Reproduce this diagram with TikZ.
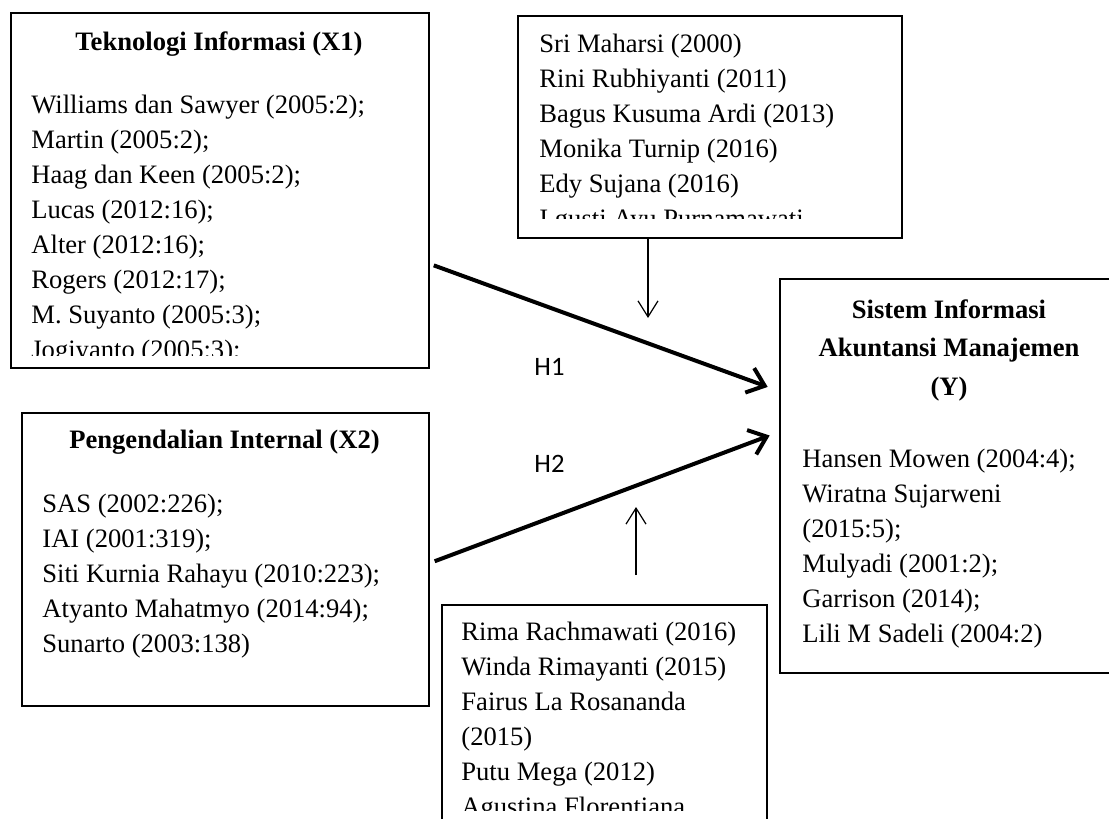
\documentclass[tikz,border=0pt]{standalone}
\usepackage{fontspec}
\setmainfont{Liberation Serif}
\newfontfamily\hfont{Carlito}
\usetikzlibrary{arrows.meta}

\tikzset{
  box/.style={draw,line width=1pt,inner sep=0pt,anchor=north west},
  title/.style={font=\fontsize{13.3}{19.25}\selectfont\bfseries,anchor=base,inner sep=0pt,align=center},
  body/.style={font=\fontsize{13.3}{17.5}\selectfont,anchor=base west,inner sep=0pt,align=left},
  hyp/.style={line width=2pt,-{Straight Barb[length=8pt,width=13pt,line width=2pt]}},
  modarrow/.style={line width=0.6pt,-{Straight Barb[length=8pt,width=10pt,line width=0.6pt]}},
  hlabel/.style={font=\hfont\fontsize{13.3}{16}\selectfont,anchor=base,inner sep=0pt}
}

\begin{document}
\begin{tikzpicture}[x=0.5pt,y=-0.5pt]
  \useasboundingbox (0,0) rectangle (1109,819);

  % boxes
  \node[box,minimum width=209pt,minimum height=177.5pt] (x1) at (10,12) {};
  \node[box,minimum width=203.5pt,minimum height=146.5pt] (x2) at (21,412) {};
  \node[box,minimum width=192pt,minimum height=111pt] (mod1) at (517,15) {};
  \node[box,minimum width=162.5pt,minimum height=130pt] (mod2) at (441,604) {};
  \node[box,minimum width=170pt,minimum height=197pt] (y) at (779,278) {};

  % titles (base = last line)
  \node[title] (x1t) at (219,50) {Teknologi Informasi (X1)};
  \node[title] (x2t) at (224.5,448) {Pengendalian Internal (X2)};
  \node[title] (yt) at (949,395) {Sistem Informasi\\Akuntansi Manajemen\\(Y)};

  % lists (base = last line)
  \begin{scope}
    \clip (10,12) rectangle (428,355);
    \node[body] (x1b) at (31,358) {Williams dan Sawyer (2005:2);\\Martin (2005:2);\\Haag dan Keen (2005:2);\\Lucas (2012:16);\\Alter (2012:16);\\Rogers (2012:17);\\M. Suyanto (2005:3);\\Jogiyanto (2005:3);};
  \end{scope}
  \node[body] (x2b) at (42,652) {SAS (2002:226);\\IAI (2001:319);\\Siti Kurnia Rahayu (2010:223);\\Atyanto Mahatmyo (2014:94);\\Sunarto (2003:138)};
  \begin{scope}
    \clip (517,15) rectangle (901,218);
    \node[body] (mod1b) at (539,227) {Sri Maharsi (2000)\\Rini Rubhiyanti (2011)\\Bagus Kusuma Ardi (2013)\\Monika Turnip (2016)\\Edy Sujana (2016)\\I gusti Ayu Purnamawati};
  \end{scope}
  \begin{scope}
    \clip (441,604) rectangle (766,810);
    \node[body] (mod2b) at (461,815) {Rima Rachmawati (2016)\\Winda Rimayanti (2015)\\Fairus La Rosananda\\(2015)\\Putu Mega (2012)\\Agustina Florentiana};
  \end{scope}
  \node[body] (yb) at (802,642) {Hansen Mowen (2004:4);\\Wiratna Sujarweni\\(2015:5);\\Mulyadi (2001:2);\\Garrison (2014);\\Lili M Sadeli (2004:2)};

  % hypotheses
  \draw[hyp,shorten <=2pt,shorten >=6pt] (x1.east |- 0,264) -- (y.west |- 0,391);
  \draw[hyp,shorten <=2.5pt,shorten >=5pt] (x2.east |- 0,563) -- (y.west |- 0,432);
  \node[hlabel] (h1) at (549.5,375) {H1};
  \node[hlabel] (h2) at (549.5,472) {H2};

  % moderating arrows
  \coordinate (m1end) at (648,318);
  \coordinate (m2end) at (636,507);
  \draw[modarrow] (mod1.south -| m1end) -- (m1end);
  \draw[modarrow,shorten <=14.5pt] (mod2.north -| m2end) -- (m2end);
\end{tikzpicture}
\end{document}
